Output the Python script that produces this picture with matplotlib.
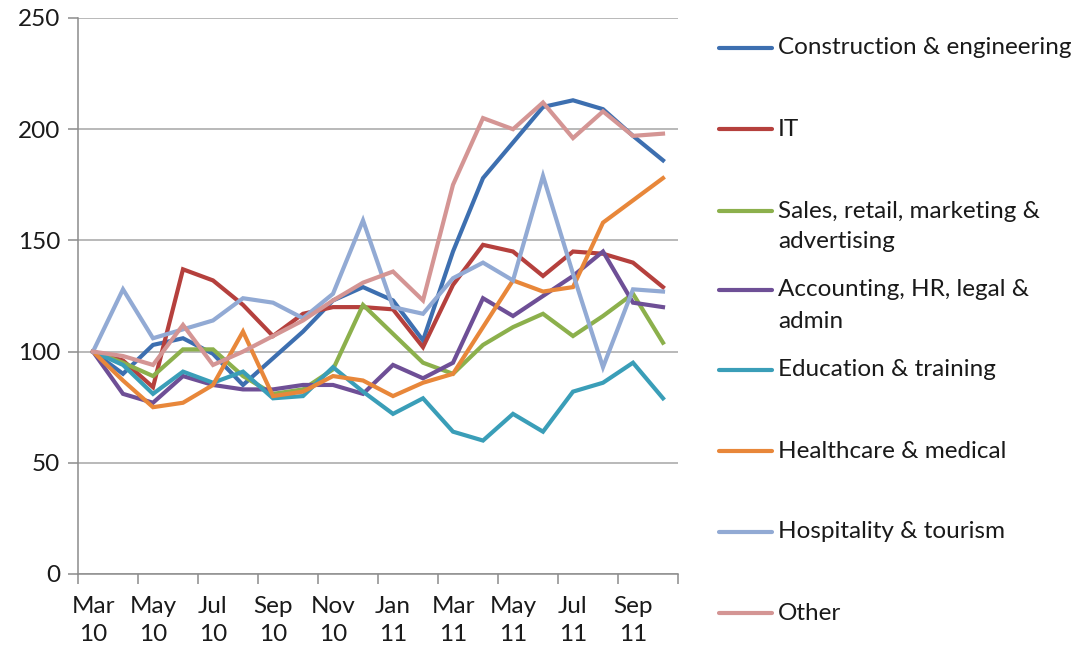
"""Job ad index by industry, Mar 2010 - Oct 2011 (Excel-style line chart)."""

import matplotlib
matplotlib.use("Agg")
import matplotlib.pyplot as plt
from matplotlib.lines import Line2D

plt.rcParams["font.family"] = ["Lato", "DejaVu Sans"]

months = ["Mar\n10", "Apr\n10", "May\n10", "Jun\n10", "Jul\n10", "Aug\n10", "Sep\n10",
          "Oct\n10", "Nov\n10", "Dec\n10", "Jan\n11", "Feb\n11", "Mar\n11", "Apr\n11",
          "May\n11", "Jun\n11", "Jul\n11", "Aug\n11", "Sep\n11", "Oct\n11"]

construction = [100, 90, 103, 106, 99, 85, 97, 109, 123, 129, 123, 105, 145, 178, 194, 210, 213, 209, 197, 186]
it = [100, 96, 84, 137, 132, 121, 107, 117, 120, 120, 119, 102, 130, 148, 145, 134, 145, 144, 140, 129]
sales = [100, 95, 89, 101, 101, 89, 81, 83, 92, 121, 108, 95, 90, 103, 111, 117, 107, 116, 126, 104]
accounting = [100, 81, 77, 89, 85, 83, 83, 85, 85, 81, 94, 88, 95, 124, 116, 125, 134, 145, 122, 120]
education = [100, 94, 81, 91, 86, 91, 79, 80, 93, 82, 72, 79, 64, 60, 72, 64, 82, 86, 95, 79]
healthcare = [100, 87, 75, 77, 85, 109, 80, 82, 89, 87, 80, 86, 90, 111, 132, 127, 129, 158, 168, 178]
hospitality = [100, 128, 106, 110, 114, 124, 122, 115, 126, 159, 120, 117, 133, 140, 132, 179, 135, 93, 128, 127]
other = [100, 98, 94, 112, 94, 100, 107, 114, 123, 131, 136, 123, 175, 205, 200, 212, 196, 208, 197, 198]

series = [
    ("Construction & engineering", construction, "#3d6fb0"),
    ("IT", it, "#b5403d"),
    ("Sales, retail, marketing &\nadvertising", sales, "#8cb04c"),
    ("Accounting, HR, legal &\nadmin", accounting, "#6e4f96"),
    ("Education & training", education, "#3a9eb8"),
    ("Healthcare & medical", healthcare, "#e8873a"),
    ("Hospitality & tourism", hospitality, "#92aad4"),
    ("Other", other, "#d49594"),
]

FS = 17.5
W, H = 1079, 654
fig = plt.figure(figsize=(W / 100, H / 100), dpi=100)
ax = fig.add_axes([78 / W, 1 - 574 / H, 600 / W, 556 / H])

x = list(range(len(months)))
for label, values, color in series:
    ax.plot(x, values, color=color, linewidth=3.0, solid_joinstyle="miter")

grey = "#8c8c8c"
ax.set_xlim(-0.5, len(months) - 0.5)
ax.set_ylim(0, 250)
ax.set_yticks(range(0, 251, 50))
ax.yaxis.grid(True, color="#a6a6a6", linewidth=1.1)
ax.set_axisbelow(True)
for side in ("top", "right"):
    ax.spines[side].set_visible(False)
for side in ("left", "bottom"):
    ax.spines[side].set_color(grey)
    ax.spines[side].set_linewidth(1.1)

# ticks sit between categories, labels every second month
ax.set_xticks([i - 0.5 for i in range(0, len(months) + 1, 2)])
ax.set_xticklabels([])
ax.set_xticks(x[::2], minor=True)
ax.set_xticklabels(months[::2], minor=True)
ax.tick_params(axis="x", which="major", length=7, color=grey, width=1.1)
ax.tick_params(axis="x", which="minor", length=0, pad=16, labelsize=FS, colors="#1a1a1a")
ax.tick_params(axis="y", length=7, color=grey, width=1.1, pad=6, labelsize=FS, labelcolor="#1a1a1a")
for t in ax.xaxis.get_minorticklabels():
    t.set_linespacing(1.4)

# legend drawn by hand so the handle lines up with the first text line
ys = [48, 129, 211, 290, 370, 451, 532, 613]
for (label, values, color), yc in zip(series, ys):
    fy = 1 - yc / H
    fig.add_artist(Line2D([719 / W, 772 / W], [fy, fy], color=color, linewidth=3.0,
                          solid_capstyle="round"))
    for k, line in enumerate(label.split("\n")):
        fig.text(778 / W, 1 - (yc + 31 * k) / H, line, fontsize=FS, va="center",
                 color="#1a1a1a")

fig.savefig("out.png", dpi=100)
plt.close(fig)
